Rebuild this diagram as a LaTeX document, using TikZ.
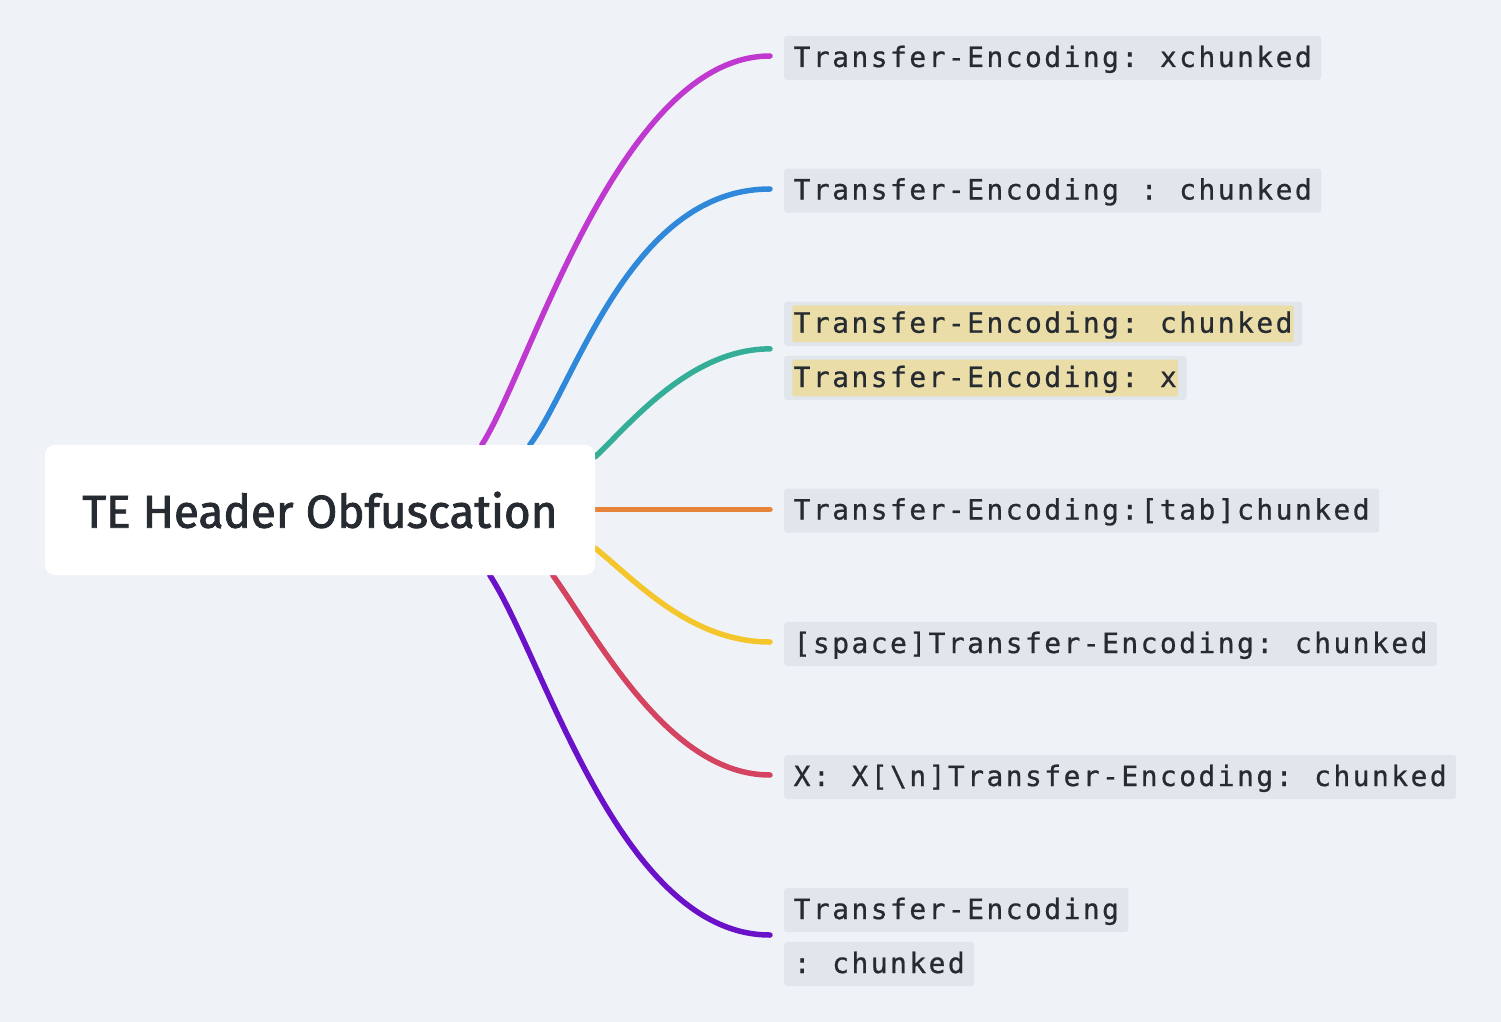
\documentclass[tikz,border=0pt]{standalone}
\usepackage{fontspec}
\usepackage{graphicx}
\setmainfont{Fira Sans}
\newfontfamily\monofont[FakeBold=0.7]{DejaVu Sans Mono}
\newfontfamily\rootfont[FakeBold=1.8]{Fira Sans}
\usetikzlibrary{calc}
\newdimen\mypitch \mypitch=19.28pt
\ExplSyntaxOn
\NewDocumentCommand\monotext{m}{
  \str_map_inline:nn {#1}
    { \str_if_eq:nnTF {##1} {|} { \makebox[\mypitch]{\textbackslash} } { \makebox[\mypitch]{##1} } }
}
\ExplSyntaxOff
\definecolor{bg}{HTML}{EFF3F8}
\definecolor{boxgray}{HTML}{E1E6EC}
\definecolor{hlyellow}{HTML}{EBDDA8}
\definecolor{txt}{HTML}{262B31}
\definecolor{cMag}{HTML}{BF38D0}
\definecolor{cBlue}{HTML}{2F88DA}
\definecolor{cGreen}{HTML}{35AE98}
\definecolor{cOrange}{HTML}{E8843A}
\definecolor{cYellow}{HTML}{F5C52C}
\definecolor{cRed}{HTML}{D44460}
\definecolor{cPurple}{HTML}{6B12C9}
\pgfdeclarelayer{back}
\pgfdeclarelayer{mid}
\pgfsetlayers{back,mid,main}
\begin{document}
\begin{tikzpicture}[x=1pt,y=-1pt,
  rootbox/.style={fill=white, rounded corners=10pt, minimum width=550pt, minimum height=130pt, inner sep=0pt, text=txt},
  lab/.style={anchor=west, fill=boxgray, rounded corners=3pt, inner xsep=8.25pt, inner ysep=8pt, text height=23pt, text depth=5pt, text=txt, font=\monofont\fontsize{28}{30}\selectfont},
  hl/.style={lab, fill=hlyellow, inner xsep=0pt, inner ysep=4.35pt, rounded corners=1pt},
  br/.style={line width=5.5pt, line cap=round}]
\begin{pgfonlayer}{back}
\fill[bg] (0,0) rectangle (1501,1022);
\end{pgfonlayer}
\useasboundingbox (0,0) rectangle (1501,1022);

\node[rootbox] (root) at (320,510) {\resizebox{475pt}{36pt}{\rootfont TE Header Obfuscation}};

\node[lab] (l1) at (784,58) {\monotext{Transfer-Encoding: xchunked}};
\node[lab] (l2) at (784,190.5) {\monotext{Transfer-Encoding : chunked}};
\node[hl] (h1) at (792.25,323.7) {\monotext{Transfer-Encoding: chunked}};
\node[hl] (h2) at (792.25,378) {\monotext{Transfer-Encoding: x}};
\node[lab] (l4) at (784,510.5) {\monotext{Transfer-Encoding:[tab]chunked}};
\node[lab] (l5) at (784,644) {\monotext{[space]Transfer-Encoding: chunked}};
\node[lab] (l6) at (784,777) {\monotext{X: X[|n]Transfer-Encoding: chunked}};
\node[lab] (l7a) at (784,910) {\monotext{Transfer-Encoding}};
\node[lab] (l7b) at (784,964) {\monotext{: chunked}};

\begin{pgfonlayer}{mid}
\fill[boxgray, rounded corners=3pt] ($(h1.north west)+(-8.25,-3.5)$) rectangle ($(h1.south east)+(8.25,3.5)$);
\fill[boxgray, rounded corners=3pt] ($(h2.north west)+(-8.25,-3.5)$) rectangle ($(h2.south east)+(8.25,3.5)$);
\end{pgfonlayer}

\coordinate (s1) at ($(root.north west)+(437,0)$);
\coordinate (s2) at ($(root.north west)+(485,0)$);
\coordinate (s3) at ($(root.north east)+(0,12)$);
\coordinate (s5) at ($(root.south east)+(0,-27)$);
\coordinate (s6) at ($(root.south west)+(508,0)$);
\coordinate (s7) at ($(root.south west)+(445,0)$);

\coordinate (e1) at ($(l1.west)+(-14,-2)$);
\coordinate (e2) at ($(l2.west)+(-14,-1.5)$);
\coordinate (e3) at ($(h1.west)!0.5!(h2.west)+(-22.25,-2)$);
\coordinate (e4) at ($(l4.west)+(-14,-1)$);
\coordinate (s4) at (root.east |- e4);
\coordinate (e5) at ($(l5.west)+(-14,-2)$);
\coordinate (e6) at ($(l6.west)+(-14,-2)$);
\coordinate (e7) at ($(l7a.west)!0.5!(l7b.west)+(-14,-2)$);

\begin{pgfonlayer}{mid}
\draw[br, cMag] (s1) .. controls (530,370) and (620,56) .. (e1);
\draw[br, cBlue] (s2) .. controls (575,385) and (630,189) .. (e2);
\draw[br, cGreen] (s3) .. controls (630,424) and (690,349) .. (e3);
\draw[br, cOrange] (s4) -- (e4);
\draw[br, cYellow] (s5) .. controls (635,580) and (690,642) .. (e5);
\draw[br, cRed] (s6) .. controls (600,642) and (670,775) .. (e6);
\draw[br, cPurple] (s7) .. controls (545,660) and (620,935) .. (e7);
\end{pgfonlayer}
\end{tikzpicture}
\end{document}
